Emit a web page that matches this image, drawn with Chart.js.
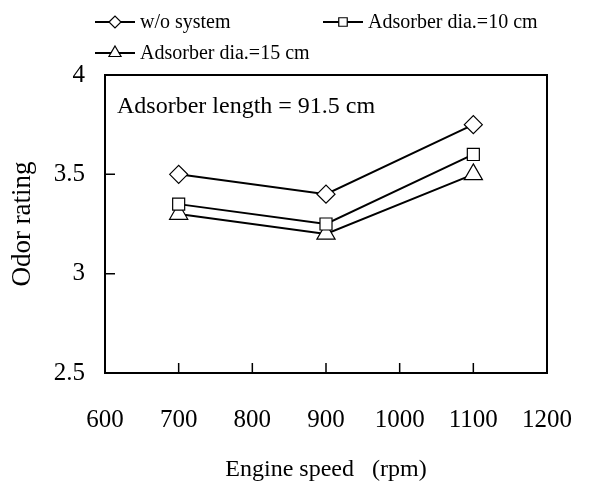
<!DOCTYPE html>
<html>
<head>
<meta charset="utf-8">
<script src="https://cdn.jsdelivr.net/npm/chart.js@4.4.0/dist/chart.umd.min.js"></script>
<style>
  html, body { margin: 0; padding: 0; background: #fff; }
  #wrap { width: 589px; height: 484px; }
</style>
</head>
<body>
<div id="wrap"><canvas id="odorChart" width="589" height="484"></canvas></div>
<script>
// engine speed (rpm)
var speeds = [700, 900, 1100];
// odor rating for each setup
var woSystem = [3.5, 3.4, 3.75];
var dia10 = [3.35, 3.25, 3.6];
var dia15 = [3.3, 3.2, 3.5];

var seriesNames = ['w/o system', 'Adsorber dia.=10 cm', 'Adsorber dia.=15 cm'];
var xTicks = [600, 700, 800, 900, 1000, 1100, 1200];
var yTicks = [2.5, 3, 3.5, 4];
var note = 'Adsorber length = 91.5 cm';

var serif = '"Liberation Serif", "Times New Roman", serif';

function pts(vals) {
    return vals.map(function (v, i) { return { x: speeds[i], y: v }; });
}

function ds(label, vals, style, r) {
    return {
        label: label,
        data: pts(vals),
        borderColor: '#000',
        borderWidth: 2,
        backgroundColor: '#fff',
        pointStyle: style,
        pointRadius: r,
        pointHoverRadius: r,
        pointBorderWidth: 1.2,
        pointBorderColor: '#000',
        pointBackgroundColor: '#fff',
        tension: 0
    };
}

// box, inward ticks, note and legend
var decor = {
    id: 'decor',
    afterDraw: function (chart) {
        var ctx = chart.ctx;
        var a = chart.chartArea;
        var xs = chart.scales.x, ys = chart.scales.y;
        ctx.save();
        ctx.strokeStyle = '#000';
        ctx.lineWidth = 2;
        ctx.strokeRect(a.left, a.top, a.right - a.left, a.bottom - a.top);

        ctx.lineWidth = 1.5;
        ctx.beginPath();
        xTicks.forEach(function (t) {
            var px = xs.getPixelForValue(t);
            ctx.moveTo(px, a.bottom);
            ctx.lineTo(px, a.bottom - 10);
        });
        yTicks.forEach(function (t) {
            var py = ys.getPixelForValue(t);
            ctx.moveTo(a.left, py);
            ctx.lineTo(a.left + 10, py);
        });
        ctx.stroke();

        ctx.fillStyle = '#000';
        ctx.font = '24px ' + serif;
        ctx.textAlign = 'left';
        ctx.textBaseline = 'alphabetic';
        ctx.fillText(note, a.left + 12, 113);

        // legend
        var items = [
            { x: 95, y: 22, i: 0, r: 6 },
            { x: 323, y: 22, i: 1, r: 6 },
            { x: 95, y: 53, i: 2, r: 7 }
        ];
        ctx.font = '20px ' + serif;
        ctx.textBaseline = 'middle';
        items.forEach(function (it) {
            var d = chart.data.datasets[it.i];
            ctx.strokeStyle = '#000';
            ctx.lineWidth = 2;
            ctx.beginPath();
            ctx.moveTo(it.x, it.y);
            ctx.lineTo(it.x + 40, it.y);
            ctx.stroke();
            ctx.lineWidth = 1.2;
            ctx.fillStyle = '#fff';
            Chart.helpers.drawPoint(ctx, { pointStyle: d.pointStyle, radius: it.r, borderWidth: 1.2 }, it.x + 20, it.y);
            ctx.fillStyle = '#000';
            ctx.fillText(d.label, it.x + 45, it.y + 1);
        });
        ctx.restore();
    }
};

new Chart(document.getElementById('odorChart').getContext('2d'), {
    type: 'line',
    data: {
        datasets: [
            ds(seriesNames[0], woSystem, 'rectRot', 9),
            ds(seriesNames[1], dia10, 'rect', 8.5),
            ds(seriesNames[2], dia15, 'triangle', 10.5)
        ]
    },
    options: {
        responsive: false,
        animation: false,
        events: [],
        layout: {
            autoPadding: false,
            padding: { top: 75, right: 42, left: 0, bottom: 0 }
        },
        plugins: {
            legend: { display: false },
            tooltip: { enabled: false }
        },
        scales: {
            x: {
                type: 'linear',
                min: 600,
                max: 1200,
                afterBuildTicks: function (s) {
                    s.ticks = xTicks.map(function (v) { return { value: v }; });
                },
                afterFit: function (s) {
                    s.height = 111;
                    s.paddingLeft = 0;
                    s.paddingRight = 0;
                },
                grid: { display: false, drawTicks: false },
                border: { display: false },
                ticks: {
                    color: '#000',
                    padding: 32,
                    maxRotation: 0,
                    font: { family: serif, size: 25 },
                    callback: function (v) { return String(v); }
                },
                title: {
                    display: true,
                    text: 'Engine speed   (rpm)',
                    color: '#000',
                    padding: { top: 0, bottom: 0 },
                    font: { family: serif, size: 24 }
                }
            },
            y: {
                min: 2.5,
                max: 4,
                afterBuildTicks: function (s) {
                    s.ticks = yTicks.map(function (v) { return { value: v }; });
                },
                afterFit: function (s) {
                    s.width = 105;
                    s.paddingTop = 0;
                    s.paddingBottom = 0;
                },
                grid: { display: false, drawTicks: false },
                border: { display: false },
                ticks: {
                    color: '#000',
                    padding: 20,
                    font: { family: serif, size: 25 },
                    callback: function (v) { return String(v); }
                },
                title: {
                    display: true,
                    text: 'Odor rating',
                    color: '#000',
                    padding: { top: 7, bottom: 0 },
                    font: { family: serif, size: 27 }
                }
            }
        }
    },
    plugins: [decor]
});
</script>
</body>
</html>
